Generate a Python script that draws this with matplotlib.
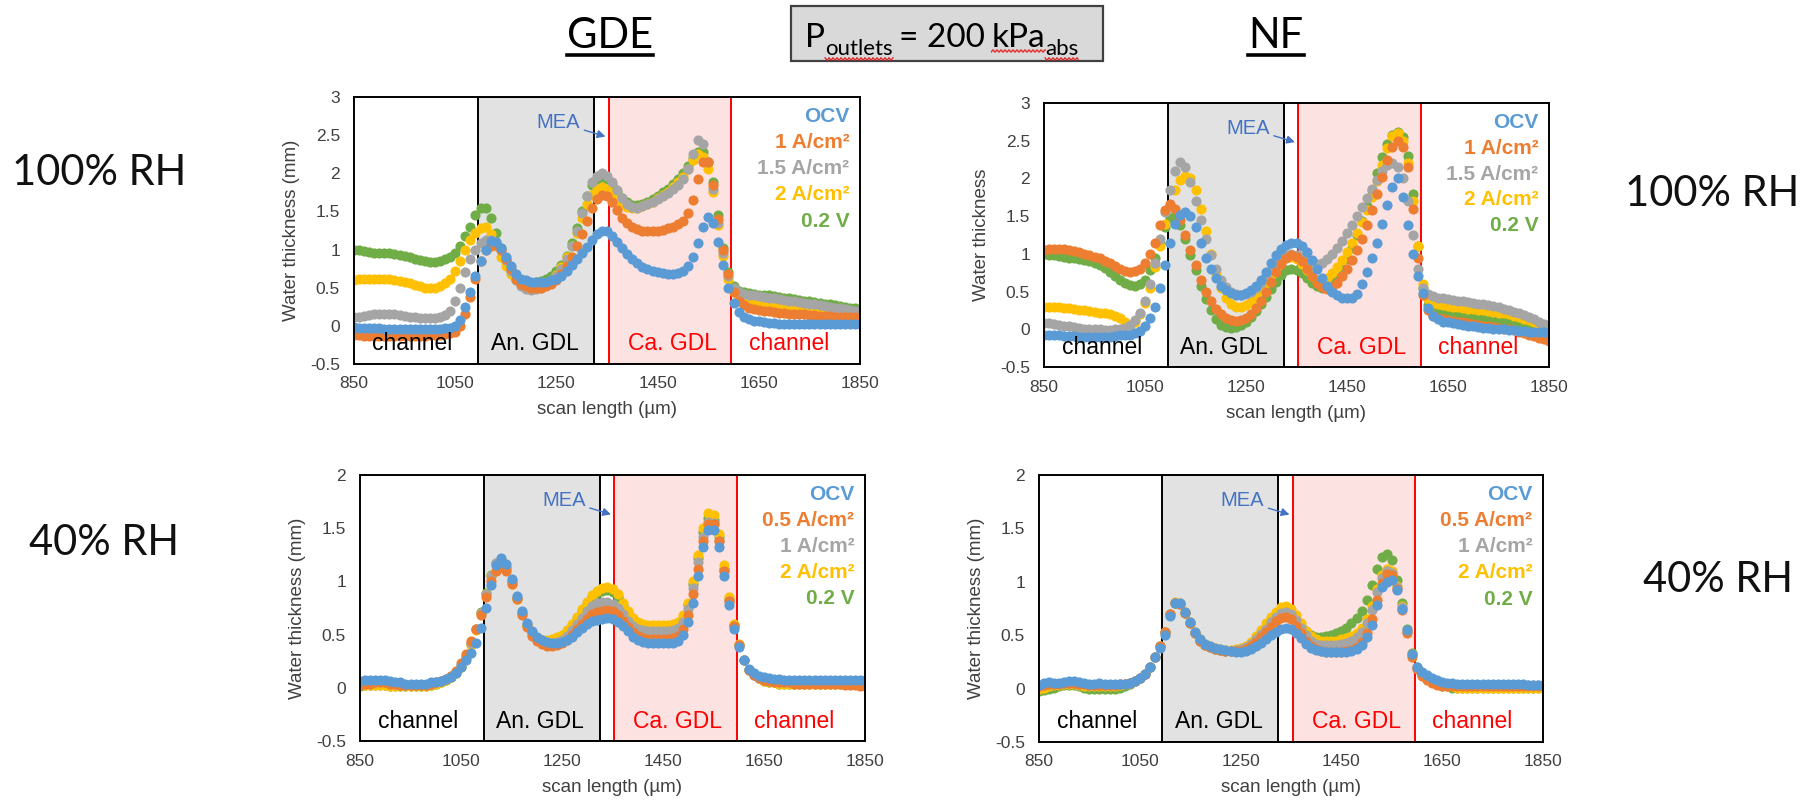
import numpy as np
import matplotlib
matplotlib.use("Agg")
import matplotlib.pyplot as plt
from matplotlib.lines import Line2D
from matplotlib.patches import Rectangle

plt.rcParams['font.family'] = ['Liberation Sans', 'DejaVu Sans']
plt.rcParams['axes.unicode_minus'] = False

W, H = 1806, 808

# ---------------------------------------------------------------- data
# scan position (µm), one sample every 10 µm
scan_um = np.arange(850, 1851, 10)

# GDE, 100 % RH
gde100_ocv = [-0.02,-0.03,-0.03,-0.03,-0.03,-0.03,-0.04,-0.04,-0.04,-0.04,
              -0.04,-0.04,-0.04,-0.04,-0.04,-0.04,-0.04,-0.04,-0.03,-0.03,
              0.00,0.08,0.25,0.45,0.65,0.85,1.00,1.11,1.10,1.02,
              0.90,0.78,0.68,0.62,0.60,0.58,0.58,0.58,0.58,0.60,
              0.62,0.66,0.72,0.80,0.88,0.95,1.03,1.12,1.20,1.25,
              1.24,1.18,1.10,1.02,0.94,0.87,0.82,0.77,0.74,0.72,
              0.70,0.69,0.68,0.68,0.69,0.72,0.78,0.90,1.08,1.30,
              1.43,1.35,1.10,0.80,0.50,0.30,0.18,0.12,0.09,0.07,
              0.06,0.05,0.04,0.04,0.03,0.03,0.03,0.03,0.03,0.03,
              0.03,0.03,0.03,0.03,0.03,0.03,0.03,0.03,0.03,0.03,0.03]
gde100_1A = [-0.12,-0.12,-0.13,-0.13,-0.13,-0.13,-0.13,-0.13,-0.13,-0.13,
             -0.13,-0.13,-0.13,-0.13,-0.13,-0.12,-0.12,-0.12,-0.11,-0.10,
             -0.08,0.00,0.15,0.38,0.62,0.85,1.00,1.05,1.06,1.00,
             0.88,0.74,0.62,0.55,0.52,0.50,0.50,0.50,0.52,0.55,
             0.60,0.68,0.78,0.90,1.05,1.20,1.38,1.55,1.66,1.72,
             1.70,1.62,1.52,1.42,1.35,1.30,1.27,1.25,1.25,1.25,
             1.25,1.26,1.28,1.30,1.33,1.38,1.48,1.65,1.92,2.15,
             2.15,1.85,1.40,1.00,0.68,0.45,0.33,0.27,0.24,0.22,
             0.21,0.20,0.19,0.18,0.17,0.17,0.16,0.16,0.15,0.15,
             0.14,0.14,0.13,0.13,0.13,0.12,0.12,0.12,0.11,0.11,0.10]
gde100_15A = [0.12,0.12,0.13,0.14,0.15,0.16,0.16,0.16,0.15,0.14,
              0.13,0.12,0.11,0.10,0.10,0.10,0.10,0.11,0.14,0.20,
              0.32,0.50,0.70,0.88,1.00,1.08,1.12,1.13,1.10,1.00,
              0.86,0.72,0.60,0.52,0.48,0.47,0.48,0.50,0.53,0.58,
              0.65,0.75,0.88,1.05,1.25,1.48,1.70,1.88,1.97,2.00,
              1.96,1.88,1.78,1.68,1.60,1.56,1.55,1.57,1.60,1.63,
              1.66,1.70,1.74,1.79,1.85,1.92,2.05,2.25,2.43,2.38,
              2.15,1.80,1.35,0.95,0.65,0.50,0.45,0.42,0.41,0.40,
              0.39,0.38,0.37,0.36,0.35,0.34,0.33,0.32,0.31,0.30,
              0.29,0.28,0.27,0.26,0.25,0.24,0.23,0.22,0.21,0.20,0.19]
gde100_2A = [0.60,0.61,0.61,0.62,0.62,0.62,0.62,0.61,0.60,0.59,
             0.58,0.56,0.54,0.52,0.50,0.49,0.50,0.52,0.56,0.62,
             0.72,0.85,1.00,1.12,1.22,1.28,1.30,1.20,1.05,0.90,
             0.78,0.68,0.60,0.55,0.52,0.50,0.50,0.52,0.55,0.60,
             0.67,0.77,0.90,1.05,1.22,1.42,1.60,1.72,1.80,1.82,
             1.80,1.74,1.66,1.60,1.56,1.54,1.55,1.57,1.60,1.63,
             1.67,1.71,1.76,1.82,1.88,1.95,2.05,2.18,2.25,2.22,
             2.05,1.75,1.32,0.92,0.62,0.45,0.38,0.34,0.32,0.31,
             0.30,0.29,0.28,0.27,0.26,0.25,0.25,0.24,0.23,0.22,
             0.22,0.21,0.20,0.20,0.19,0.18,0.18,0.17,0.17,0.16,0.16]
gde100_02V = [1.00,0.99,0.98,0.97,0.96,0.96,0.95,0.95,0.94,0.93,
              0.92,0.90,0.88,0.86,0.85,0.84,0.84,0.85,0.87,0.90,
              0.96,1.05,1.18,1.30,1.45,1.55,1.55,1.42,1.22,1.02,
              0.85,0.72,0.63,0.58,0.56,0.56,0.57,0.59,0.62,0.66,
              0.72,0.80,0.92,1.08,1.28,1.50,1.70,1.85,1.93,1.95,
              1.92,1.85,1.76,1.68,1.62,1.59,1.59,1.60,1.63,1.66,
              1.70,1.75,1.80,1.86,1.93,2.00,2.10,2.20,2.28,2.28,
              2.15,1.88,1.45,1.02,0.70,0.52,0.46,0.44,0.43,0.42,
              0.41,0.41,0.40,0.39,0.38,0.37,0.36,0.35,0.34,0.33,
              0.32,0.31,0.30,0.29,0.28,0.27,0.26,0.25,0.24,0.23,0.22]

# NF, 100 % RH
nf100_ocv = [-0.07,-0.08,-0.08,-0.08,-0.09,-0.09,-0.09,-0.10,-0.10,-0.10,
             -0.10,-0.10,-0.10,-0.10,-0.09,-0.08,-0.08,-0.07,-0.05,-0.02,
             0.05,0.15,0.30,0.55,0.85,1.15,1.40,1.52,1.55,1.50,
             1.35,1.15,0.95,0.80,0.68,0.58,0.52,0.48,0.46,0.46,
             0.48,0.52,0.58,0.66,0.76,0.88,0.98,1.06,1.12,1.15,
             1.14,1.10,1.02,0.92,0.80,0.68,0.58,0.50,0.45,0.42,
             0.41,0.42,0.47,0.60,0.76,0.95,1.15,1.40,1.65,1.88,
             2.00,1.75,1.38,1.00,0.70,0.48,0.28,0.18,0.13,0.10,
             0.09,0.08,0.07,0.06,0.05,0.04,0.03,0.02,0.02,0.01,
             0.00,0.00,-0.01,-0.01,-0.02,-0.02,-0.03,-0.03,-0.04,-0.04,-0.05]
nf100_1A = [1.05,1.06,1.07,1.07,1.06,1.05,1.04,1.02,1.00,0.98,
            0.96,0.94,0.91,0.88,0.84,0.80,0.77,0.76,0.77,0.80,
            0.88,1.00,1.15,1.38,1.58,1.66,1.60,1.45,1.25,1.05,
            0.85,0.66,0.50,0.37,0.27,0.20,0.15,0.12,0.11,0.12,
            0.15,0.20,0.28,0.38,0.50,0.63,0.76,0.87,0.95,0.98,
            0.96,0.90,0.80,0.70,0.62,0.56,0.54,0.56,0.62,0.70,
            0.80,0.92,1.05,1.20,1.38,1.58,1.80,2.02,2.25,2.42,
            2.50,2.42,2.15,1.60,0.95,0.45,0.25,0.18,0.15,0.13,
            0.12,0.11,0.10,0.09,0.08,0.07,0.06,0.05,0.04,0.03,
            0.02,0.01,0.00,-0.01,-0.03,-0.05,-0.07,-0.09,-0.11,-0.13,-0.15]
nf100_15A = [0.08,0.08,0.07,0.06,0.05,0.04,0.03,0.02,0.01,0.00,
             0.00,0.00,-0.01,-0.01,0.00,0.00,0.02,0.06,0.12,0.22,
             0.38,0.60,0.88,1.20,1.55,1.85,2.10,2.22,2.15,1.95,
             1.70,1.45,1.20,0.98,0.80,0.66,0.56,0.50,0.47,0.46,
             0.47,0.50,0.55,0.62,0.70,0.78,0.86,0.93,0.98,1.00,
             0.99,0.96,0.92,0.88,0.86,0.88,0.93,1.00,1.08,1.17,
             1.27,1.38,1.50,1.62,1.74,1.86,1.98,2.10,2.18,2.20,
             2.15,2.00,1.70,1.25,0.80,0.55,0.47,0.44,0.42,0.41,
             0.40,0.39,0.38,0.37,0.36,0.35,0.34,0.33,0.32,0.31,
             0.29,0.27,0.25,0.23,0.21,0.19,0.16,0.13,0.10,0.07,0.05]
nf100_2A = [0.30,0.30,0.29,0.29,0.28,0.28,0.27,0.26,0.25,0.24,
            0.23,0.22,0.21,0.20,0.18,0.15,0.10,0.06,0.10,0.20,
            0.35,0.55,0.82,1.10,1.40,1.65,1.85,1.98,2.03,2.00,
            1.85,1.60,1.30,1.00,0.75,0.55,0.42,0.34,0.30,0.30,
            0.32,0.36,0.43,0.52,0.62,0.72,0.82,0.90,0.95,0.96,
            0.93,0.86,0.78,0.70,0.66,0.65,0.68,0.74,0.82,0.92,
            1.02,1.14,1.27,1.42,1.58,1.76,1.96,2.18,2.40,2.56,
            2.60,2.50,2.20,1.70,1.10,0.60,0.40,0.35,0.33,0.32,
            0.31,0.30,0.29,0.28,0.27,0.27,0.26,0.25,0.24,0.23,
            0.22,0.21,0.20,0.18,0.16,0.14,0.12,0.09,0.06,0.03,0.00]
nf100_02V = [1.00,0.99,0.98,0.97,0.96,0.95,0.94,0.93,0.92,0.90,
             0.88,0.85,0.81,0.76,0.70,0.65,0.61,0.59,0.58,0.60,
             0.66,0.78,0.95,1.15,1.35,1.48,1.50,1.38,1.20,0.98,
             0.78,0.58,0.40,0.25,0.13,0.06,0.03,0.02,0.03,0.06,
             0.10,0.16,0.24,0.33,0.43,0.53,0.63,0.72,0.78,0.80,
             0.78,0.74,0.68,0.62,0.57,0.55,0.56,0.60,0.68,0.80,
             0.93,1.08,1.25,1.43,1.63,1.85,2.07,2.28,2.45,2.58,
             2.62,2.55,2.30,1.80,1.10,0.55,0.32,0.26,0.24,0.23,
             0.22,0.21,0.21,0.20,0.19,0.18,0.17,0.16,0.15,0.14,
             0.13,0.12,0.11,0.10,0.09,0.08,0.07,0.05,0.03,0.01,0.00]

# GDE, 40 % RH
gde40_ocv = [0.06,0.07,0.07,0.07,0.07,0.07,0.06,0.05,0.05,0.04,
             0.04,0.04,0.04,0.04,0.05,0.05,0.06,0.08,0.10,0.14,
             0.20,0.26,0.33,0.42,0.56,0.75,0.97,1.15,1.22,1.16,
             1.02,0.86,0.72,0.61,0.53,0.48,0.45,0.43,0.42,0.42,
             0.43,0.45,0.48,0.52,0.56,0.60,0.63,0.64,0.65,0.66,
             0.65,0.62,0.58,0.53,0.48,0.45,0.43,0.42,0.42,0.42,
             0.42,0.42,0.42,0.44,0.50,0.62,0.80,1.05,1.32,1.48,
             1.48,1.32,1.05,0.78,0.55,0.38,0.26,0.18,0.14,0.11,
             0.10,0.09,0.08,0.08,0.07,0.07,0.07,0.07,0.07,0.07,
             0.07,0.07,0.07,0.07,0.07,0.07,0.07,0.07,0.07,0.07,0.07]
gde40_05A = [0.03,0.04,0.04,0.05,0.05,0.05,0.04,0.04,0.03,0.03,
             0.03,0.03,0.03,0.03,0.04,0.05,0.06,0.08,0.11,0.16,
             0.23,0.32,0.44,0.55,0.68,0.85,1.00,1.10,1.14,1.10,
             0.98,0.83,0.68,0.57,0.49,0.44,0.41,0.39,0.39,0.40,
             0.42,0.45,0.50,0.55,0.60,0.65,0.69,0.71,0.72,0.73,
             0.72,0.68,0.63,0.57,0.52,0.49,0.47,0.46,0.46,0.46,
             0.46,0.46,0.47,0.49,0.55,0.68,0.88,1.12,1.38,1.54,
             1.54,1.38,1.10,0.82,0.58,0.40,0.26,0.17,0.12,0.09,
             0.07,0.06,0.05,0.05,0.05,0.05,0.04,0.04,0.04,0.04,
             0.04,0.04,0.04,0.04,0.04,0.04,0.03,0.03,0.03,0.02,0.02]
gde40_1A = [0.05,0.05,0.05,0.05,0.05,0.05,0.04,0.04,0.03,0.03,
            0.03,0.03,0.03,0.03,0.04,0.05,0.06,0.08,0.11,0.15,
            0.21,0.30,0.42,0.55,0.70,0.88,1.05,1.17,1.20,1.14,
            1.00,0.84,0.70,0.59,0.51,0.46,0.43,0.42,0.42,0.43,
            0.45,0.49,0.54,0.60,0.66,0.72,0.77,0.80,0.81,0.81,
            0.79,0.75,0.69,0.63,0.58,0.55,0.54,0.53,0.53,0.53,
            0.53,0.53,0.54,0.56,0.62,0.74,0.94,1.18,1.42,1.56,
            1.55,1.38,1.10,0.82,0.58,0.40,0.26,0.17,0.12,0.09,
            0.07,0.06,0.06,0.05,0.05,0.05,0.05,0.05,0.05,0.05,
            0.05,0.05,0.05,0.05,0.05,0.05,0.05,0.05,0.05,0.05,0.05]
gde40_2A = [0.03,0.03,0.03,0.03,0.03,0.03,0.02,0.02,0.02,0.02,
            0.02,0.02,0.02,0.02,0.03,0.04,0.05,0.07,0.10,0.14,
            0.20,0.28,0.40,0.54,0.70,0.88,1.05,1.16,1.19,1.12,
            0.98,0.83,0.69,0.58,0.51,0.47,0.45,0.45,0.46,0.48,
            0.50,0.54,0.60,0.67,0.74,0.81,0.87,0.91,0.94,0.95,
            0.93,0.88,0.80,0.72,0.66,0.62,0.60,0.59,0.59,0.59,
            0.59,0.59,0.60,0.62,0.68,0.80,1.00,1.25,1.50,1.64,
            1.62,1.45,1.15,0.85,0.60,0.41,0.26,0.17,0.12,0.09,
            0.06,0.05,0.05,0.04,0.04,0.04,0.04,0.04,0.04,0.04,
            0.04,0.04,0.04,0.04,0.04,0.04,0.04,0.04,0.04,0.04,0.04]
gde40_02V = [0.02,0.03,0.03,0.03,0.03,0.03,0.02,0.02,0.02,0.02,
             0.02,0.02,0.02,0.02,0.03,0.04,0.05,0.07,0.10,0.14,
             0.20,0.29,0.41,0.55,0.71,0.89,1.06,1.17,1.20,1.13,
             0.99,0.84,0.70,0.59,0.52,0.47,0.45,0.44,0.45,0.47,
             0.49,0.53,0.58,0.65,0.72,0.79,0.85,0.89,0.91,0.92,
             0.90,0.85,0.78,0.70,0.64,0.60,0.58,0.57,0.57,0.57,
             0.57,0.57,0.58,0.60,0.66,0.78,0.98,1.22,1.46,1.60,
             1.58,1.42,1.12,0.83,0.59,0.40,0.26,0.17,0.12,0.09,
             0.06,0.05,0.05,0.04,0.04,0.04,0.04,0.04,0.04,0.04,
             0.04,0.04,0.04,0.04,0.04,0.04,0.04,0.04,0.04,0.04,0.04]

# NF, 40 % RH
nf40_ocv = [0.03,0.05,0.06,0.05,0.05,0.06,0.07,0.07,0.06,0.05,
            0.04,0.04,0.05,0.04,0.04,0.04,0.04,0.04,0.05,0.07,
            0.10,0.14,0.20,0.30,0.38,0.50,0.68,0.80,0.80,0.72,
            0.62,0.53,0.46,0.42,0.40,0.38,0.37,0.36,0.35,0.34,
            0.34,0.35,0.37,0.40,0.43,0.46,0.50,0.53,0.56,0.57,
            0.56,0.52,0.47,0.42,0.38,0.36,0.35,0.34,0.34,0.34,
            0.34,0.34,0.35,0.37,0.41,0.48,0.60,0.78,0.95,1.00,
            1.02,0.92,0.75,0.55,0.32,0.20,0.16,0.13,0.10,0.08,
            0.06,0.05,0.05,0.04,0.04,0.04,0.04,0.04,0.04,0.04,
            0.04,0.04,0.04,0.04,0.04,0.04,0.04,0.03,0.03,0.03,0.03]
nf40_05A = [0.02,0.03,0.04,0.04,0.04,0.05,0.05,0.05,0.04,0.04,
            0.03,0.03,0.03,0.03,0.03,0.03,0.04,0.04,0.05,0.07,
            0.10,0.14,0.20,0.30,0.40,0.53,0.70,0.80,0.79,0.71,
            0.61,0.52,0.45,0.41,0.39,0.37,0.36,0.35,0.35,0.35,
            0.35,0.37,0.40,0.44,0.48,0.53,0.58,0.63,0.66,0.67,
            0.65,0.59,0.52,0.45,0.40,0.37,0.35,0.34,0.34,0.34,
            0.34,0.35,0.36,0.39,0.44,0.52,0.65,0.83,0.99,1.07,
            1.06,0.93,0.74,0.52,0.30,0.18,0.12,0.08,0.05,0.03,
            0.02,0.02,0.02,0.02,0.02,0.02,0.02,0.02,0.02,0.02,
            0.02,0.02,0.02,0.02,0.02,0.02,0.02,0.02,0.02,0.02,0.02]
nf40_1A = [0.02,0.03,0.04,0.04,0.04,0.05,0.05,0.05,0.04,0.04,
           0.03,0.03,0.03,0.03,0.03,0.03,0.04,0.04,0.05,0.07,
           0.10,0.14,0.20,0.30,0.40,0.53,0.70,0.80,0.79,0.71,
           0.61,0.52,0.45,0.41,0.39,0.37,0.36,0.35,0.35,0.36,
           0.37,0.39,0.42,0.46,0.51,0.56,0.62,0.67,0.71,0.72,
           0.70,0.64,0.57,0.50,0.45,0.42,0.41,0.41,0.41,0.41,
           0.42,0.43,0.45,0.48,0.53,0.61,0.74,0.90,1.04,1.10,
           1.08,0.95,0.76,0.53,0.31,0.19,0.13,0.09,0.06,0.04,
           0.03,0.03,0.03,0.03,0.03,0.03,0.03,0.03,0.03,0.03,
           0.03,0.03,0.03,0.03,0.03,0.03,0.03,0.03,0.03,0.03,0.03]
nf40_2A = [0.00,0.01,0.02,0.03,0.03,0.04,0.04,0.04,0.03,0.02,
           0.02,0.02,0.02,0.02,0.02,0.02,0.03,0.04,0.05,0.07,
           0.10,0.14,0.20,0.30,0.40,0.53,0.70,0.81,0.80,0.72,
           0.62,0.53,0.46,0.42,0.40,0.38,0.37,0.36,0.36,0.37,
           0.38,0.40,0.44,0.49,0.55,0.61,0.67,0.72,0.76,0.77,
           0.75,0.69,0.61,0.54,0.49,0.46,0.45,0.45,0.45,0.45,
           0.46,0.47,0.49,0.52,0.57,0.65,0.77,0.93,1.06,1.12,
           1.10,0.96,0.77,0.54,0.32,0.19,0.13,0.09,0.06,0.04,
           0.03,0.02,0.02,0.01,0.01,0.01,0.01,0.01,0.01,0.01,
           0.01,0.01,0.01,0.01,0.01,0.01,0.01,0.01,0.01,0.01,0.01]
nf40_02V = [-0.02,-0.01,0.00,0.01,0.02,0.03,0.03,0.03,0.02,0.01,
            0.00,0.00,0.00,0.00,0.00,0.00,0.01,0.02,0.04,0.07,
            0.10,0.14,0.20,0.30,0.40,0.53,0.70,0.80,0.79,0.71,
            0.61,0.52,0.45,0.41,0.39,0.37,0.36,0.35,0.35,0.36,
            0.37,0.39,0.42,0.46,0.51,0.56,0.62,0.67,0.71,0.72,
            0.70,0.65,0.59,0.54,0.50,0.48,0.48,0.49,0.50,0.52,
            0.54,0.57,0.61,0.66,0.73,0.83,0.97,1.12,1.23,1.26,
            1.20,1.02,0.80,0.56,0.33,0.20,0.13,0.09,0.06,0.04,
            0.02,0.02,0.01,0.01,0.01,0.01,0.01,0.01,0.01,0.01,
            0.01,0.01,0.01,0.01,0.01,0.01,0.01,0.01,0.01,0.01,0.01]

labels_100 = ["OCV", "1 A/cm²", "1.5 A/cm²", "2 A/cm²", "0.2 V"]
labels_40 = ["OCV", "0.5 A/cm²", "1 A/cm²", "2 A/cm²", "0.2 V"]
series_colors = ["#5b9bd5", "#ed7d31", "#a5a5a5", "#ffc000", "#70ad47"]

x_ticks = [850, 1050, 1250, 1450, 1650, 1850]
y_ticks_100 = [-0.5, 0, 0.5, 1, 1.5, 2, 2.5, 3]
y_ticks_40 = [-0.5, 0, 0.5, 1, 1.5, 2]

anode_gdl = (1095, 1325)
cathode_gdl = (1353, 1596)
zone_names = ["channel", "An. GDL", "Ca. GDL", "channel"]
zone_centres = [965, 1207, 1479, 1709]
zone_colors = ["black", "black", "#ff0000", "#ff0000"]

# ---------------------------------------------------------------- figure
fig = plt.figure(figsize=(W / 100, H / 100), dpi=100)
fig.patch.set_facecolor("white")
TXT = "#404040"


def fx(px):
    return px / W


def fy(py):
    return 1 - py / H


def tick_text(v):
    return ("%g" % v)


panels = [
    dict(rect=(354, 97, 860, 364), ylim=(-0.5, 3), yticks=y_ticks_100,
         series=[gde100_ocv, gde100_1A, gde100_15A, gde100_2A, gde100_02V],
         labels=labels_100, ylabel="Water thickness (mm)"),
    dict(rect=(1044, 103, 1549, 367), ylim=(-0.5, 3), yticks=y_ticks_100,
         series=[nf100_ocv, nf100_1A, nf100_15A, nf100_2A, nf100_02V],
         labels=labels_100, ylabel="Water thickness"),
    dict(rect=(360, 475, 865, 741), ylim=(-0.5, 2), yticks=y_ticks_40,
         series=[gde40_ocv, gde40_05A, gde40_1A, gde40_2A, gde40_02V],
         labels=labels_40, ylabel="Water thickness (mm)"),
    dict(rect=(1039, 475, 1543, 742), ylim=(-0.5, 2), yticks=y_ticks_40,
         series=[nf40_ocv, nf40_05A, nf40_1A, nf40_2A, nf40_02V],
         labels=labels_40, ylabel="Water thickness (mm)"),
]

for p in panels:
    l, t, r, b = p["rect"]
    wpx, hpx = r - l, b - t
    ax = fig.add_axes([fx(l), fy(b), wpx / W, hpx / H])
    ax.set_xlim(850, 1850)
    ax.set_ylim(*p["ylim"])

    # layer regions
    ax.axvspan(*anode_gdl, facecolor="#e2e2e2", edgecolor="black", lw=1.4, zorder=1)
    ax.axvspan(*cathode_gdl, facecolor="#fde2e2", edgecolor="#ff0000", lw=1.4, zorder=1)

    # measured profiles, OCV drawn last so it sits on top
    for vals, col in reversed(list(zip(p["series"], series_colors))):
        ax.plot(scan_um, vals, ls="none", marker="o", ms=7.3,
                mfc=col, mec="none", zorder=3)

    # region names along the bottom
    for name, xc, col in zip(zone_names, zone_centres, zone_colors):
        ax.text(xc, 0.075, name, transform=ax.get_xaxis_transform(),
                ha="center", va="center", fontsize=16.5, color=col, zorder=4)

    # series names, coloured, top right
    for k, (lab, col) in enumerate(zip(p["labels"], series_colors)):
        ax.text(0.979, 0.927 - 0.098 * k, lab, transform=ax.transAxes,
                ha="right", va="center", fontsize=15, fontweight="bold",
                color=col, zorder=4)

    # membrane pointer
    ax.annotate("MEA", xy=(1347, 0.852), xycoords=("data", "axes fraction"),
                xytext=(1297, 0.905), textcoords=("data", "axes fraction"),
                ha="right", va="center", fontsize=14.5, color="#4472c4", zorder=4,
                arrowprops=dict(arrowstyle="-|>", color="#4472c4", lw=1.0,
                                mutation_scale=12, shrinkA=1, shrinkB=0))

    ax.set_xticks(x_ticks)
    ax.set_xticklabels([tick_text(v) for v in x_ticks])
    ax.set_yticks(p["yticks"])
    ax.set_yticklabels([tick_text(v) for v in p["yticks"]])
    ax.tick_params(axis="both", length=0, labelsize=12.5, colors=TXT)
    ax.tick_params(axis="x", pad=9)
    ax.tick_params(axis="y", pad=10)

    ax.set_xlabel("scan length (µm)", fontsize=13.5, color=TXT)
    ax.xaxis.label.set_verticalalignment("center")
    ax.xaxis.set_label_coords(0.5, -46 / hpx)
    ax.set_ylabel(p["ylabel"], fontsize=13.5, color=TXT)
    ax.yaxis.label.set_verticalalignment("center")
    ax.yaxis.set_label_coords(-62 / wpx, 0.5)

    for s in ax.spines.values():
        s.set_linewidth(1.4)
        s.set_color("black")
        s.set_zorder(5)

# ---------------------------------------------------------------- headings
HEAD = ["Lato", "DejaVu Sans"]
renderer = fig.canvas.get_renderer()


def underlined(text, xc, base, size=30):
    t = fig.text(fx(xc), fy(base), text, family=HEAD, fontsize=size,
                 ha="center", va="baseline", color="black")
    bb = t.get_window_extent(renderer=renderer)
    y = fy(base + 7)
    fig.add_artist(Line2D([bb.x0 / W, bb.x1 / W], [y, y], transform=fig.transFigure,
                          color="black", lw=2.6))


underlined("GDE", 610, 48)
underlined("NF", 1276, 48)

# pressure box
fig.add_artist(Rectangle((fx(791), fy(61)), (1103 - 791) / W, 55 / H,
                         transform=fig.transFigure, facecolor="#d9d9d9",
                         edgecolor="#404040", lw=1.6))


def wavy(x0, x1, ypx):
    xs = np.arange(x0, x1 + 0.5, 1.0)
    ys = ypx + 1.3 * np.sin(xs * np.pi / 2.0)
    fig.add_artist(Line2D(xs / W, ys / H, transform=fig.transFigure,
                          color="#e02020", lw=0.9))


pieces = [("P", 24, 0, False, 0), ("outlets", 16, -8, True, 6),
          ("= 200", 24, 0, False, 7), ("kPa", 24, 0, True, 0),
          ("abs", 16, -8, True, 0)]
x_cur = 805
base_y = 47
for txt, size, dy, squig, gap in pieces:
    tt = fig.text(fx(x_cur), fy(base_y - dy), txt, family=HEAD, fontsize=size,
                  ha="left", va="baseline", color="black")
    bb = tt.get_window_extent(renderer=renderer)
    if squig:
        wavy(bb.x0, bb.x1, H - (base_y - dy) - 4)
    x_cur += bb.width + gap

# humidity row labels
for txt, xc, base in [("100% RH", 99, 185), ("100% RH", 1712, 206),
                      ("40% RH", 104, 555), ("40% RH", 1718, 592)]:
    fig.text(fx(xc), fy(base), txt, family=HEAD, fontsize=30,
             ha="center", va="baseline", color="#111111")

fig.savefig("out.png", dpi=100, facecolor="white")
